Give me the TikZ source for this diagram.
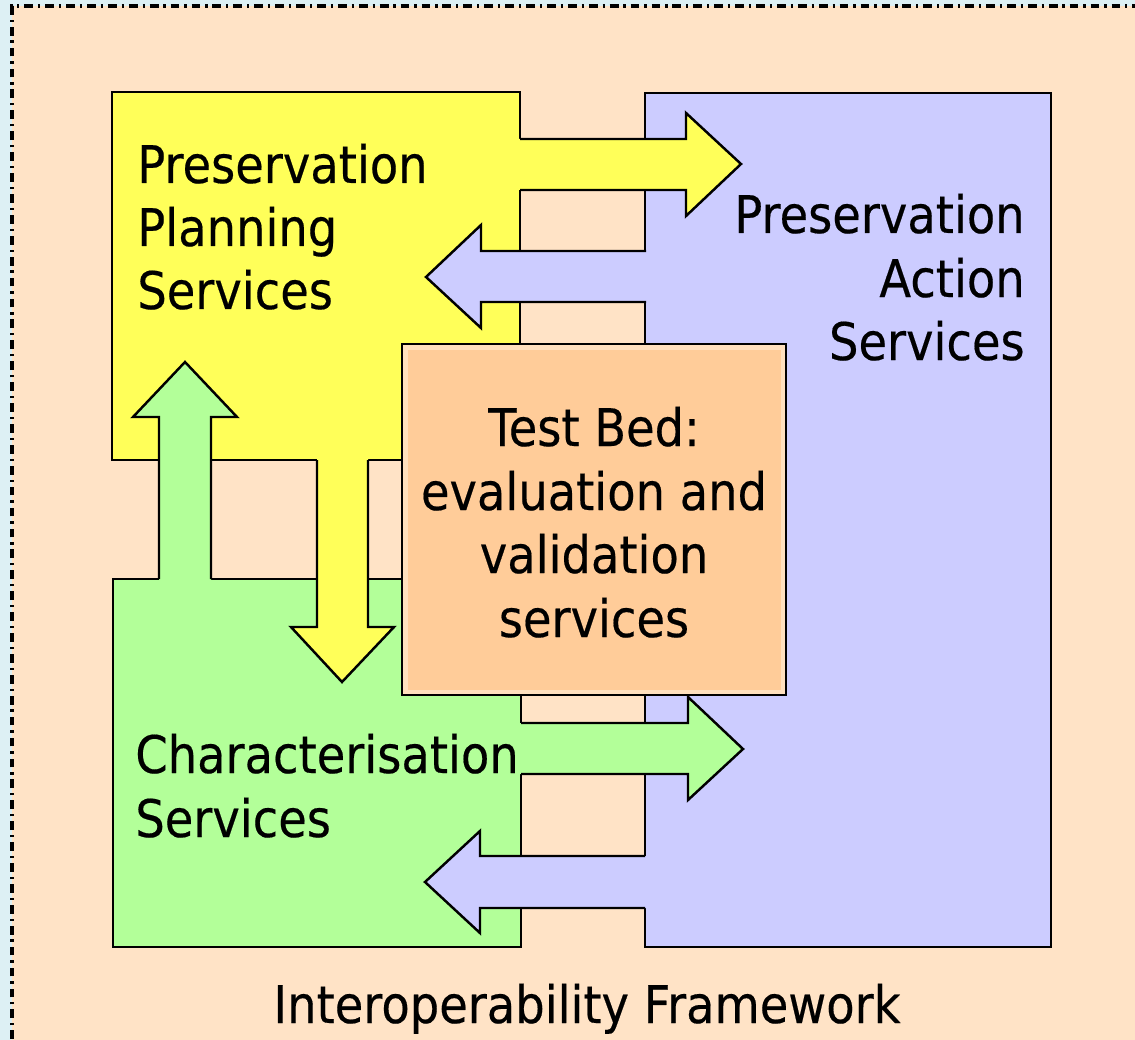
\documentclass[tikz,border=0pt]{standalone}
\usepackage{fontspec}
\setmainfont{DejaVu Sans}[FakeStretch=0.895, FakeBold=0.35]
\definecolor{bgblue}{HTML}{DDF0F4}
\definecolor{peach}{HTML}{FFE3C6}
\definecolor{ylw}{HTML}{FFFF59}
\definecolor{grn}{HTML}{B3FF99}
\definecolor{prp}{HTML}{CCCCFF}
\definecolor{org}{HTML}{FFCC99}
\definecolor{orgband}{HTML}{FFE0BE}
\tikzset{
  boxline/.style={draw=black, line width=1.5pt},
  arrline/.style={draw=black, line width=1.4pt, line join=miter},
  lbl/.style={inner sep=0pt, font=\fontsize{29.5pt}{36pt}\selectfont},
}
\begin{document}
\begin{tikzpicture}[x=0.02cm, y=-0.02cm]
\useasboundingbox (0,0) rectangle (1135,1040);
% background and frame
\fill[bgblue] (0,0) rectangle (1135,1040);
\fill[peach] (12,6) rectangle (1150,1060);
\draw[line width=1.8pt, dash pattern=on 5pt off 2.8pt on 1.3pt off 2.8pt] (12,1060) -- (12,6) -- (1150,6);
% boxes
\path[fill=prp, boxline] (645,93) rectangle (1051,947);
\path[fill=ylw, boxline] (112,92) rectangle (520,460);
\path[fill=grn, boxline] (113,579) rectangle (521,947);
% yellow right arrow
\fill[ylw] (515,139) -- (686,139) -- (686,113) -- (741,164) -- (686,216) -- (686,190) -- (515,190) -- cycle;
\draw[arrline] (520,139) -- (686,139) -- (686,113) -- (741,164) -- (686,216) -- (686,190) -- (520,190);
% purple left arrow (top)
\fill[prp] (651,251) -- (481,251) -- (481,225) -- (426,277) -- (481,328) -- (481,302) -- (651,302) -- cycle;
\draw[arrline] (646,251) -- (481,251) -- (481,225) -- (426,277) -- (481,328) -- (481,302) -- (646,302);
% green up arrow
\fill[grn] (159,584) -- (159,417) -- (133,417) -- (185,362) -- (237,417) -- (211,417) -- (211,584) -- cycle;
\draw[arrline] (159,579) -- (159,417) -- (133,417) -- (185,362) -- (237,417) -- (211,417) -- (211,579);
% yellow down arrow
\fill[ylw] (317,455) -- (317,627) -- (291,627) -- (342,682) -- (394,627) -- (368,627) -- (368,455) -- cycle;
\draw[arrline] (317,460) -- (317,627) -- (291,627) -- (342,682) -- (394,627) -- (368,627) -- (368,460);
% green right arrow
\fill[grn] (516,723) -- (688,723) -- (688,697) -- (743,749) -- (688,800) -- (688,774) -- (516,774) -- cycle;
\draw[arrline] (521,723) -- (688,723) -- (688,697) -- (743,749) -- (688,800) -- (688,774) -- (521,774);
% purple left arrow (bottom)
\fill[prp] (650,856) -- (480,856) -- (480,831) -- (425,882) -- (480,933) -- (480,908) -- (650,908) -- cycle;
\draw[arrline] (645,856) -- (480,856) -- (480,831) -- (425,882) -- (480,933) -- (480,908) -- (645,908);
% test bed box
\path[fill=orgband, boxline] (402,344) rectangle (786,695);
\fill[org] (408,350) rectangle (781,690);
% labels
\node[lbl, anchor=base west] (pp1) at (137,183) {Preservation};
\node[lbl, anchor=base west] (pp2) at (137,246) {Planning};
\node[lbl, anchor=base west] (pp3) at (137,309) {Services};
\node[lbl, anchor=base east] (pa1) at (1025,233) {Preservation};
\node[lbl, anchor=base east] (pa2) at (1025,297) {Action};
\node[lbl, anchor=base east] (pa3) at (1025,360) {Services};
\node[lbl, anchor=base] (tb1) at (594,446) {Test Bed:};
\node[lbl, anchor=base] (tb2) at (594,510) {evaluation and};
\node[lbl, anchor=base] (tb3) at (594,573) {validation};
\node[lbl, anchor=base] (tb4) at (594,637) {services};
\node[lbl, anchor=base west] (ch1) at (135,773) {Characterisation};
\node[lbl, anchor=base west] (ch2) at (135,837) {Services};
\node[lbl, anchor=base] (iof) at (587,1023) {Interoperability Framework};
\end{tikzpicture}
\end{document}
